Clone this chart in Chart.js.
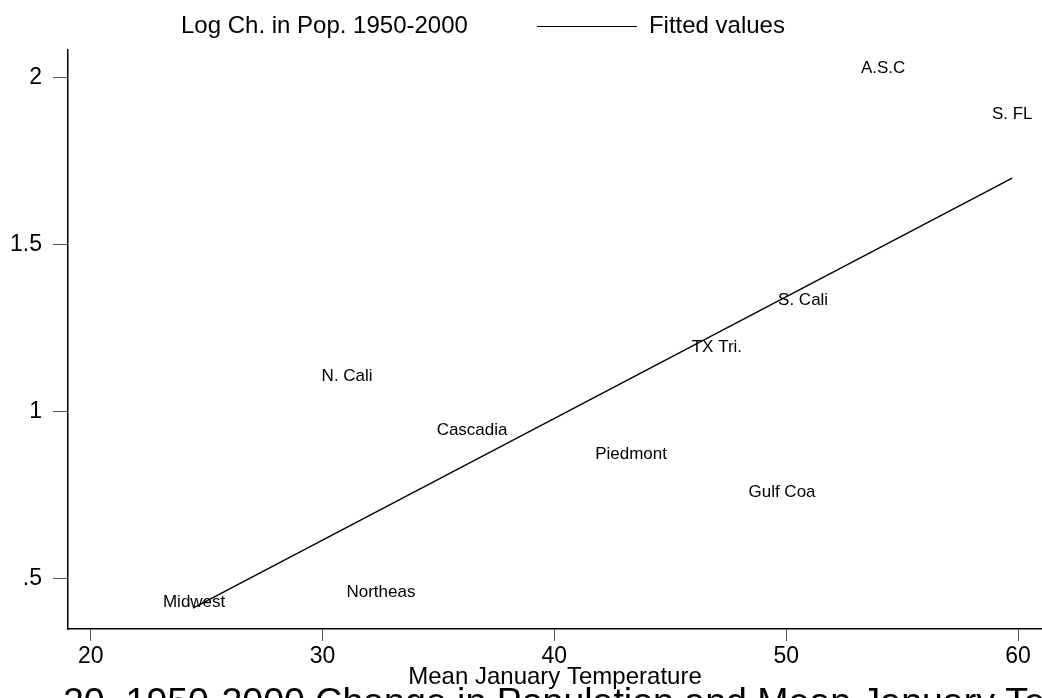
<!DOCTYPE html>
<html>
<head>
<meta charset="utf-8">
<script src="https://cdn.jsdelivr.net/npm/chart.js@4"></script>
<style>
  html, body { margin: 0; padding: 0; background: #fff; overflow: hidden; }
  #wrap { position: relative; width: 1042px; height: 698px; }
</style>
</head>
<body>
<div id="wrap"><canvas id="grafico"></canvas></div>
<script>
"use strict";

// regions, placed by their mean January temperature and log population change
const regioes = ["Midwest", "Northeas", "N. Cali", "Cascadia", "Piedmont", "TX Tri.", "Gulf Coa", "S. Cali", "A.S.C", "S. FL"];
const tempJaneiro = [24.46, 32.52, 31.06, 36.45, 43.31, 47.01, 49.82, 50.73, 54.18, 59.75];
const logMudanca = [0.430, 0.461, 1.108, 0.946, 0.874, 1.195, 0.760, 1.335, 2.030, 1.892];

// fitted values line (ends)
const ajusteX = [24.41, 59.75];
const ajusteY = [0.413, 1.70];

const xTicks = [20, 30, 40, 50, 60];
const yTicks = [0.5, 1, 1.5, 2];
const yTickLabels = [".5", "1", "1.5", "2"];

const legendaPontos = "Log Ch. in Pop. 1950-2000";
const legendaAjuste = "Fitted values";
const tituloX = "Mean January Temperature";
const legendaFigura = "20. 1950-2000 Change in Population and Mean January Temperature";

Chart.defaults.font.family = "'Liberation Sans', Arial, sans-serif";
Chart.defaults.color = "#000";

// legend keys: blank for the labels, a short line for the fit
const KEY_W = 161;
function makeKey(comLinha) {
    const c = document.createElement("canvas");
    c.width = KEY_W; c.height = 2;
    const g = c.getContext("2d");
    if (comLinha) { g.fillStyle = "#000"; g.fillRect(KEY_W - 100, 1, 100, 1); }
    return c;
}
const keyVazio = makeKey(false), keyLinha = makeKey(true);

const rotulos = {
    id: "rotulos",
    afterDatasetsDraw(chart) {
        const ctx = chart.ctx, meta = chart.getDatasetMeta(0);
        ctx.save();
        ctx.font = "17px 'Liberation Sans', Arial, sans-serif";
        ctx.fillStyle = "#000"; ctx.textAlign = "center"; ctx.textBaseline = "middle";
        meta.data.forEach((p, i) => ctx.fillText(regioes[i], p.x, p.y));
        ctx.restore();
    }
};

const legendaBaixo = {
    id: "legendaBaixo",
    afterDraw(chart) {
        const ctx = chart.ctx;
        ctx.save();
        ctx.font = "37.5px 'Liberation Sans', Arial, sans-serif";
        ctx.fillStyle = "#000"; ctx.textAlign = "left"; ctx.textBaseline = "alphabetic";
        ctx.fillText(legendaFigura, 63, 714);
        ctx.restore();
    }
};

const alturaLegenda = {
    id: "alturaLegenda",
    beforeLayout(chart) {
        const lg = chart.legend;
        if (!lg || lg._patched) return;
        const fit = lg.fit;
        lg.fit = function () { fit.call(this); this.height += 2; };
        lg._patched = true;
    }
};

new Chart(document.getElementById("grafico"), {
    type: "scatter",
    data: {
        datasets: [
            { label: legendaPontos, data: tempJaneiro.map((t, i) => ({ x: t, y: logMudanca[i] })), pointRadius: 0, pointHoverRadius: 0, pointStyle: keyVazio },
            { type: "line", label: legendaAjuste, data: ajusteX.map((t, i) => ({ x: t, y: ajusteY[i] })), borderColor: "#000", borderWidth: 1.4, pointRadius: 0, fill: false, tension: 0, pointStyle: keyLinha }
        ]
    },
    options: {
        responsive: true, maintainAspectRatio: false, animation: false, devicePixelRatio: 1,
        layout: { padding: { top: 6, left: 0, right: 0, bottom: 0 } },
        plugins: {
            tooltip: { enabled: false },
            legend: {
                position: "top", align: "start",
                labels: {
                    usePointStyle: true, pointStyleWidth: KEY_W, padding: 8,
                    font: { size: 24 }, color: "#000",
                    generateLabels: (chart) => chart.data.datasets.map((ds, i) => ({
                        text: ds.label, pointStyle: i === 0 ? keyVazio : keyLinha,
                        fillStyle: "transparent", strokeStyle: "transparent", lineWidth: 0,
                        hidden: false, datasetIndex: i, fontColor: "#000"
                    }))
                }
            }
        },
        scales: {
            x: {
                type: "linear", min: 19.02, max: 61.035,
                afterBuildTicks: s => { s.ticks = xTicks.map(v => ({ value: v })); },
                afterFit: s => { s.height = 69; },
                grid: { drawOnChartArea: false, drawTicks: true, tickLength: 12, color: "#555", lineWidth: 1 },
                border: { display: true, color: "#000", width: 1.5 },
                ticks: { font: { size: 23, lineHeight: 1 }, color: "#000", padding: 4, maxRotation: 0, autoSkip: false },
                title: { display: true, text: tituloX, font: { size: 24, lineHeight: 1 }, color: "#000", padding: { top: 0, bottom: 9 } }
            },
            y: {
                type: "linear", min: 0.3503, max: 2.0838,
                afterBuildTicks: s => { s.ticks = yTicks.map(v => ({ value: v })); },
                afterFit: s => { s.width = 68; },
                grid: { drawOnChartArea: false, drawTicks: true, tickLength: 15, color: "#555", lineWidth: 1 },
                border: { display: true, color: "#000", width: 1.5 },
                ticks: { font: { size: 23 }, color: "#000", padding: 11, autoSkip: false, callback: (v, i) => yTickLabels[i] }
            }
        }
    },
    plugins: [rotulos, legendaBaixo, alturaLegenda]
});
</script>
</body>
</html>
